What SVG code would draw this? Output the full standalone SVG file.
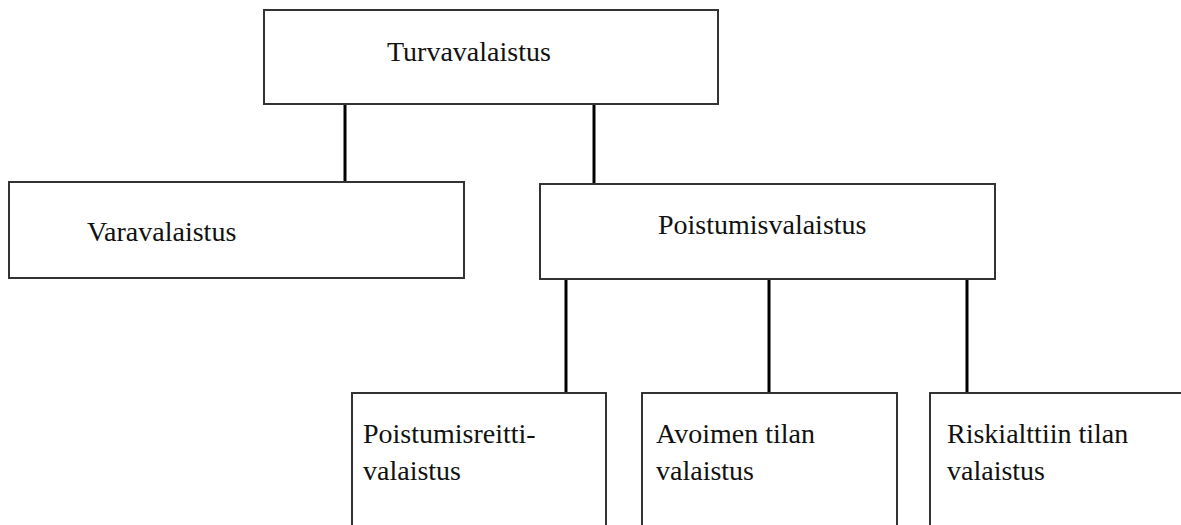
<svg xmlns="http://www.w3.org/2000/svg" width="1181" height="525" viewBox="0 0 1181 525">
<style>
.box{fill:#fff;stroke:#333;stroke-width:2}
.t{font-family:"Liberation Serif","Times New Roman",serif;font-size:28px;fill:#111}
.c{stroke:#000;stroke-width:3;fill:none}
</style>
<rect width="1181" height="525" fill="#fff"/>
<g id="connectors">
<line class="c" x1="345" y1="104" x2="345" y2="182"/>
<line class="c" x1="594" y1="104" x2="594" y2="184"/>
<line class="c" x1="566" y1="279" x2="566" y2="393"/>
<line class="c" x1="769" y1="279" x2="769" y2="393"/>
<line class="c" x1="967" y1="279" x2="967" y2="393"/>
</g>
<g id="turvavalaistus">
<rect class="box" x="264" y="10" width="454" height="94"/>
<text class="t" x="387" y="61">Turvavalaistus</text>
</g>
<g id="varavalaistus">
<rect class="box" x="9" y="182" width="455" height="96"/>
<text class="t" x="87" y="241">Varavalaistus</text>
</g>
<g id="poistumisvalaistus">
<rect class="box" x="540" y="184" width="455" height="95"/>
<text class="t" x="658" y="234">Poistumisvalaistus</text>
</g>
<g id="poistumisreitti">
<rect class="box" x="352" y="393" width="254" height="140"/>
<text class="t" x="363" y="443">Poistumisreitti-</text>
<text class="t" x="363" y="480">valaistus</text>
</g>
<g id="avoimen">
<rect class="box" x="642" y="393" width="255" height="140"/>
<text class="t" x="656" y="443">Avoimen tilan</text>
<text class="t" x="656" y="480">valaistus</text>
</g>
<g id="riskialttiin">
<rect class="box" x="930" y="393" width="260" height="140"/>
<text class="t" x="947" y="443">Riskialttiin tilan</text>
<text class="t" x="947" y="480">valaistus</text>
</g>
</svg>
